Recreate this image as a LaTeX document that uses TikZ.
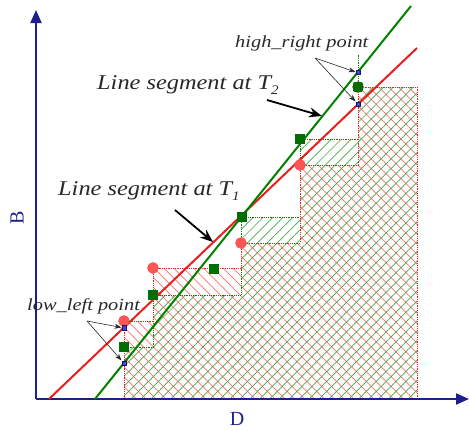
\documentclass[tikz,border=0pt]{standalone}
\usepackage{fontspec}
\setmainfont{Liberation Serif}
\usetikzlibrary{arrows.meta,patterns.meta}
\definecolor{axisblue}{RGB}{30,30,140}
\definecolor{redline}{RGB}{235,30,30}
\definecolor{greenline}{RGB}{0,130,0}
\definecolor{redmark}{RGB}{255,85,85}
\definecolor{greenmark}{RGB}{0,110,0}
\definecolor{hred}{RGB}{255,110,110}
\definecolor{hgreen}{RGB}{70,165,70}
\definecolor{bluefill}{RGB}{70,70,210}
\definecolor{bluedraw}{RGB}{20,20,100}
\definecolor{txtgray}{RGB}{40,40,40}
\tikzset{
  axis/.style={draw=axisblue,line width=2pt,-{Triangle[length=13pt,width=11pt]}},
  redhatch/.style={pattern={Lines[angle=-45,distance=7pt,line width=0.7pt]},pattern color=hred},
  greenhatch/.style={pattern={Lines[angle=45,distance=7pt,line width=0.7pt]},pattern color=hgreen},
  redstair/.style={draw=redline,densely dotted,line width=0.8pt},
  greenstair/.style={draw=greenline,densely dotted,line width=0.8pt},
  redseg/.style={draw=redline,line width=2pt},
  greenseg/.style={draw=greenline,line width=2pt},
  redcirc/.style={circle,fill=redmark,draw=redmark!80!red,line width=0.4pt,minimum size=11pt,inner sep=0pt},
  greensq/.style={rectangle,fill=greenmark,minimum size=10pt,inner sep=0pt},
  bluesq/.style={rectangle,fill=bluefill,draw=bluedraw,line width=0.5pt,minimum size=4.5pt,inner sep=0pt},
  lbl/.style={text=txtgray,font=\itshape,inner sep=0pt},
  bigarrow/.style={draw=black,line width=1.8pt,-{Stealth[length=13pt,width=10pt]}},
  thinarrow/.style={draw=black!85,line width=0.6pt,-{Stealth[length=7pt,width=5pt]}},
  axlabel/.style={text=axisblue,inner sep=0pt,font=\fontsize{20}{22}\selectfont}
}
\begin{document}
\begin{tikzpicture}[x=1pt,y=-1pt]
\useasboundingbox (0,0) rectangle (469,431);
% hatched regions
\path[redhatch] (124,399) -- (124,321) -- (153,321) -- (153,268) -- (241,268) -- (241,243) -- (300,243) -- (300,165) -- (358,165) -- (358,87) -- (417,87) -- (417,399) -- cycle;
\path[greenhatch] (124,399) -- (124,347) -- (153,347) -- (153,295) -- (241,295) -- (241,217) -- (300,217) -- (300,139) -- (358,139) -- (358,87) -- (417,87) -- (417,399) -- cycle;
% staircase outlines
\draw[greenstair] (124,399) -- (124,347) -- (153,347) -- (153,295) -- (241,295) -- (241,217) -- (300,217) -- (300,139) -- (358,139) -- (358,55);
\draw[redstair] (124,399) -- (124,321) -- (153,321) -- (153,268) -- (241,268) -- (241,243) -- (300,243) -- (300,165) -- (358,165) -- (358,87) -- (417,87) -- (417,399);
% axes
\coordinate (o) at (36,399);
\coordinate (ytop) at (36,10);
\coordinate (xend) at (469,399);
\draw[axis] (o) -- (ytop);
\draw[axis] (o) -- (xend);
\node[axlabel,rotate=90] (B) at (17,218) {B};
\node[axlabel] (D) at (237,419) {D};
% line segments
\coordinate (r0) at (49,399);
\coordinate (r1) at (417,48);
\coordinate (g0) at (95,399);
\coordinate (g1) at (411,6);
\draw[redseg] (r0) -- (r1);
\draw[greenseg] (g0) -- (g1);
% markers
\node[redcirc] (c1) at (124,321) {};
\node[redcirc] (c2) at (153,268) {};
\node[redcirc] (c3) at (241,243) {};
\node[redcirc] (c4) at (300,165) {};
\node[redcirc] (c5) at (358,87) {};
\node[greensq] (s1) at (124,347) {};
\node[greensq] (s2) at (153,295) {};
\node[greensq] (s3) at (214,269) {};
\node[greensq] (s4) at (242,217) {};
\node[greensq] (s5) at (300,139) {};
\node[greensq,rounded corners=2pt] (s6) at (358,87) {};
\node[bluesq] (ll1) at (124,327.5) {};
\node[bluesq] (ll2) at (124,363) {};
\node[bluesq] (hr1) at (358,72) {};
\node[bluesq] (hr2) at (358,104) {};
% labels
\node[lbl,anchor=base west] (hrt) at (235,47) {\scalebox{1.2}[1]{\fontsize{17}{20}\selectfont high\_right point}};
\node[lbl,anchor=base west] (llt) at (27,310) {\scalebox{1.2}[1]{\fontsize{17}{20}\selectfont low\_left point}};
\node[lbl,anchor=base west] (t2) at (97,89) {\scalebox{1.16}[1]{\fontsize{21}{24}\selectfont Line segment at T\raisebox{-5pt}{\fontsize{13}{13}\selectfont 2}}};
\node[lbl,anchor=base west] (t1) at (58,195) {\scalebox{1.16}[1]{\fontsize{21}{24}\selectfont Line segment at T\raisebox{-5pt}{\fontsize{13}{13}\selectfont 1}}};
% arrows
\coordinate (hrs) at (315,58);
\coordinate (lls) at (87,321);
\draw[thinarrow] (hrs) -- (hr1.west);
\draw[thinarrow] (hrs) -- (hr2.north west);
\draw[thinarrow] (lls) -- (ll1.west);
\draw[thinarrow] (lls) -- (ll2.north west);
\coordinate (a2s) at (267,100);
\coordinate (a2e) at (322,116);
\coordinate (a1s) at (175,210);
\coordinate (a1e) at (213,242);
\draw[bigarrow] (a2s) -- (a2e);
\draw[bigarrow] (a1s) -- (a1e);
\end{tikzpicture}
\end{document}
